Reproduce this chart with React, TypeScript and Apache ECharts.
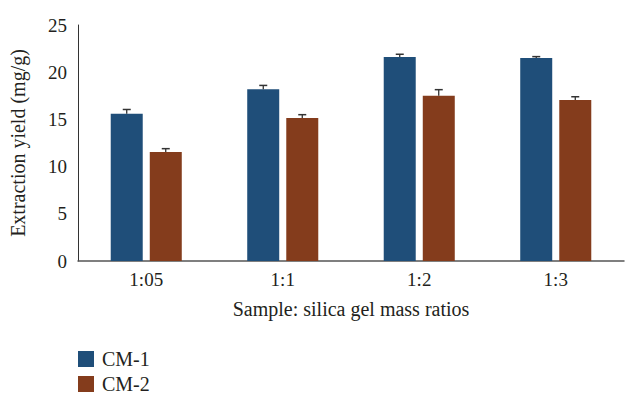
import React, { useEffect, useRef } from "react";
import * as echarts from "echarts";

const categories = ["1:05", "1:1", "1:2", "1:3"];
const cm1Values = [15.6, 18.2, 21.6, 21.5];
const cm2Values = [11.55, 15.15, 17.5, 17.05];
const cm1Errors = [0.45, 0.4, 0.3, 0.15];
const cm2Errors = [0.35, 0.35, 0.65, 0.35];
const seriesNames = ["CM-1", "CM-2"];
const colors = ["#1F4E79", "#843C1C"];

const FONT = "'Liberation Serif', 'DejaVu Serif', serif";
const TXT = "#231F20";

export default function App() {
  const ref = useRef<HTMLDivElement>(null);
  useEffect(() => {
    if (!ref.current) return;
    const chart = echarts.init(ref.current, null, { renderer: "svg" });
    const barWidth = 32;
    const barGapPx = 7;
    const makeErr = (vals: number[], errs: number[], sign: number) => ({
      type: "custom",
      z: 5,
      silent: true,
      data: vals.map((v, i) => [i, v, errs[i]]),
      renderItem: (params: any, api: any) => {
        const idx = api.value(0);
        const v = api.value(1);
        const e = api.value(2);
        const base = api.coord([idx, v]);
        const top = api.coord([idx, v + e]);
        const x = base[0] + sign * (barWidth + barGapPx) / 2;
        return {
          type: "group",
          children: [
            {
              type: "line",
              shape: { x1: x, y1: base[1], x2: x, y2: top[1] },
              style: { stroke: "#222", lineWidth: 1.2 },
            },
            {
              type: "line",
              shape: { x1: x - 4, y1: top[1], x2: x + 4, y2: top[1] },
              style: { stroke: "#333", lineWidth: 1.5 },
            },
          ],
        };
      },
    });
    const legendCommon = {
      orient: "vertical",
      left: 78,
      padding: 0,
      itemWidth: 16,
      itemHeight: 16,
      icon: "rect",
      textStyle: { fontFamily: FONT, fontSize: 20, lineHeight: 17, color: TXT, padding: [0, 0, 0, 3] },
    };
    chart.setOption({
      animation: false,
      textStyle: { fontFamily: FONT },
      grid: { left: 78, right: 4, top: 25, bottom: 134 },
      legend: [
        { ...legendCommon, top: 349, data: [seriesNames[0]] },
        { ...legendCommon, top: 374, data: [seriesNames[1]] },
      ],
      xAxis: {
        type: "category",
        data: categories,
        axisTick: { show: false },
        axisLine: { lineStyle: { color: "#555", width: 1.5 } },
        axisLabel: { fontFamily: FONT, fontSize: 19, color: TXT, margin: 9 },
        name: "Sample: silica gel mass ratios",
        nameLocation: "middle",
        nameGap: 38,
        nameTextStyle: { fontFamily: FONT, fontSize: 20, color: TXT },
      },
      yAxis: {
        type: "value",
        min: 0,
        max: 25,
        interval: 5,
        splitLine: { show: false },
        axisTick: { show: false },
        axisLine: { show: true, lineStyle: { color: "#333", width: 1 } },
        axisLabel: { fontFamily: FONT, fontSize: 19, color: TXT, margin: 11 },
        name: "Extraction yield (mg/g)",
        nameLocation: "middle",
        nameGap: 50,
        nameTextStyle: { fontFamily: FONT, fontSize: 20, color: TXT },
      },
      series: [
        {
          name: seriesNames[0],
          type: "bar",
          data: cm1Values,
          barWidth: barWidth,
          barGap: "22%",
          itemStyle: { color: colors[0] },
        },
        {
          name: seriesNames[1],
          type: "bar",
          data: cm2Values,
          barWidth: barWidth,
          itemStyle: { color: colors[1] },
        },
        makeErr(cm1Values, cm1Errors, -1),
        makeErr(cm2Values, cm2Errors, 1),
      ],
    });
    return () => chart.dispose();
  }, []);
  return <div ref={ref} style={{ width: 628, height: 395, position: "absolute", left: 0, top: 0 }} />;
}
